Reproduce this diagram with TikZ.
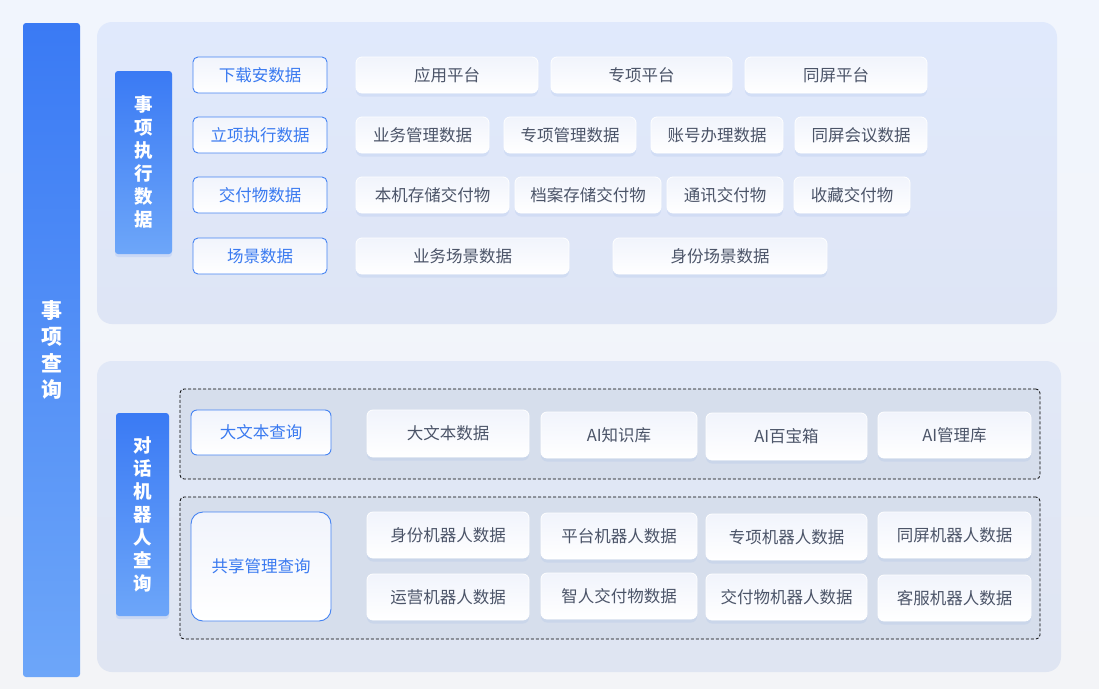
\documentclass[tikz,border=0pt]{standalone}
\usepackage{fontspec}
\setmainfont{Noto Sans CJK SC}
\usetikzlibrary{shadows}
\definecolor{bgtop}{HTML}{F1F5FD}
\definecolor{bgbot}{HTML}{F3F4F7}
\definecolor{bartop}{HTML}{3A7AF4}
\definecolor{barbot}{HTML}{6DA6F9}
\definecolor{paneltop}{HTML}{E0E9FC}
\definecolor{panelbot}{HTML}{DEE5F5}
\definecolor{panelbtop}{HTML}{E1E8F7}
\definecolor{panelbbot}{HTML}{DFE5F2}
\definecolor{dashfill}{HTML}{D6DEEC}
\definecolor{itemtop}{HTML}{F1F4FC}
\definecolor{itemtext}{HTML}{4B5468}
\definecolor{bluetext}{HTML}{3A7AF0}
\definecolor{blueline}{HTML}{4583F2}
\definecolor{shadowblue}{HTML}{9CB6E6}
\begin{document}
\begin{tikzpicture}[x=1pt,y=-1pt,
  box/.style={rectangle, inner sep=0pt, outer sep=0pt},
  panel/.style={box, rounded corners=15pt},
  item/.style={box, rounded corners=6pt, draw=white, line width=0.8pt,
    top color=itemtop, bottom color=white, text=itemtext,
    font=\fontsize{16.5}{19}\selectfont,
    drop shadow={shadow xshift=0pt, shadow yshift=-3.5pt, opacity=0.2, fill=shadowblue}},
  cat/.style={box, rounded corners=5pt, draw=blueline, line width=0.9pt,
    top color=itemtop, bottom color=white, text=bluetext,
    font=\fontsize{16.5}{19}\selectfont},
  label/.style={box, rounded corners=3pt, top color=bartop, bottom color=barbot,
    text=white, align=center, font=\fontsize{18.5}{23}\selectfont\bfseries,
    drop shadow={shadow xshift=0pt, shadow yshift=-3pt, opacity=0.12, fill=bartop}},
  dashbox/.style={box, rounded corners=4pt, draw=black, line width=0.8pt,
    dash pattern=on 3pt off 2pt, fill=dashfill}
]
\useasboundingbox (0,0) rectangle (1099,688);
\fill[top color=bgtop, bottom color=bgbot] (0,0) rectangle (1099,688);

% outer bar
\node[box, rounded corners=3pt, top color=bartop, bottom color=barbot,
  minimum width=57pt, minimum height=654pt, text=white, align=center,
  font=\fontsize{21}{26.5}\selectfont\bfseries] (bar) at (51.5,350) {事\\项\\查\\询};

% panels
\node[panel, top color=paneltop, bottom color=panelbot,
  minimum width=960pt, minimum height=302pt] (ptop) at (577,173) {};
\node[panel, top color=panelbtop, bottom color=panelbbot,
  minimum width=964pt, minimum height=311pt] (pbot) at (579,516.5) {};

% labels
\node[label, minimum width=57pt, minimum height=183pt] (lab1) at (143.5,162.5) {事\\项\\执\\行\\数\\据};
\node[label, minimum width=53pt, minimum height=203pt] (lab2) at (142.5,514.5) {对\\话\\机\\器\\人\\查\\询};

% top categories
\node[cat, minimum width=134pt, minimum height=36pt] (c1) at (260,75) {下载安数据};
\node[cat, minimum width=134pt, minimum height=36pt] (c2) at (260,135) {立项执行数据};
\node[cat, minimum width=134pt, minimum height=36pt] (c3) at (260,195) {交付物数据};
\node[cat, minimum width=134pt, minimum height=36pt] (c4) at (260,256) {场景数据};

% top items
\node[item, minimum width=182pt, minimum height=36pt] (a1) at (447,75) {应用平台};
\node[item, minimum width=181pt, minimum height=36pt] (a2) at (641.5,75) {专项平台};
\node[item, minimum width=182pt, minimum height=36pt] (a3) at (836,75) {同屏平台};

\node[item, minimum width=133pt, minimum height=36pt] (b1) at (422.5,135) {业务管理数据};
\node[item, minimum width=132pt, minimum height=36pt] (b2) at (570,135) {专项管理数据};
\node[item, minimum width=132pt, minimum height=36pt] (b3) at (717,135) {账号办理数据};
\node[item, minimum width=132pt, minimum height=36pt] (b4) at (861,135) {同屏会议数据};

\node[item, minimum width=153pt, minimum height=36pt] (d1) at (432.5,195) {本机存储交付物};
\node[item, minimum width=146pt, minimum height=36pt] (d2) at (588,195) {档案存储交付物};
\node[item, minimum width=116pt, minimum height=36pt] (d3) at (725,195) {通讯交付物};
\node[item, minimum width=116pt, minimum height=36pt] (d4) at (852,195) {收藏交付物};

\node[item, minimum width=213pt, minimum height=36pt] (e1) at (462.5,256) {业务场景数据};
\node[item, minimum width=214pt, minimum height=36pt] (e2) at (720,256) {身份场景数据};

% bottom dashed groups
\node[dashbox, minimum width=860pt, minimum height=90pt] (g1) at (610,434) {};
\node[dashbox, minimum width=860pt, minimum height=142pt] (g2) at (610,568) {};

\node[cat, rounded corners=6pt, minimum width=140pt, minimum height=45pt] (q1) at (261,432.5) {大文本查询};
\node[cat, rounded corners=12pt, minimum width=140pt, minimum height=109pt] (q2) at (261,566.5) {共享管理查询};

\node[item, minimum width=162pt, minimum height=47pt] (f1) at (448,433.5) {大文本数据};
\node[item, minimum width=156pt, minimum height=46pt] (f2) at (619,435) {AI知识库};
\node[item, minimum width=161pt, minimum height=47pt] (f3) at (786.5,436.5) {AI百宝箱};
\node[item, minimum width=153pt, minimum height=46pt] (f4) at (954.5,435) {AI管理库};

\node[item, minimum width=162pt, minimum height=46pt] (h1) at (448,535) {身份机器人数据};
\node[item, minimum width=156pt, minimum height=46pt] (h2) at (619,536) {平台机器人数据};
\node[item, minimum width=161pt, minimum height=46pt] (h3) at (786.5,537) {专项机器人数据};
\node[item, minimum width=153pt, minimum height=46pt] (h4) at (954.5,535) {同屏机器人数据};

\node[item, minimum width=162pt, minimum height=46pt] (k1) at (448,597) {运营机器人数据};
\node[item, minimum width=156pt, minimum height=46pt] (k2) at (619,596) {智人交付物数据};
\node[item, minimum width=161pt, minimum height=46pt] (k3) at (786.5,597) {交付物机器人数据};
\node[item, minimum width=153pt, minimum height=46pt] (k4) at (954.5,598) {客服机器人数据};
\end{tikzpicture}
\end{document}
